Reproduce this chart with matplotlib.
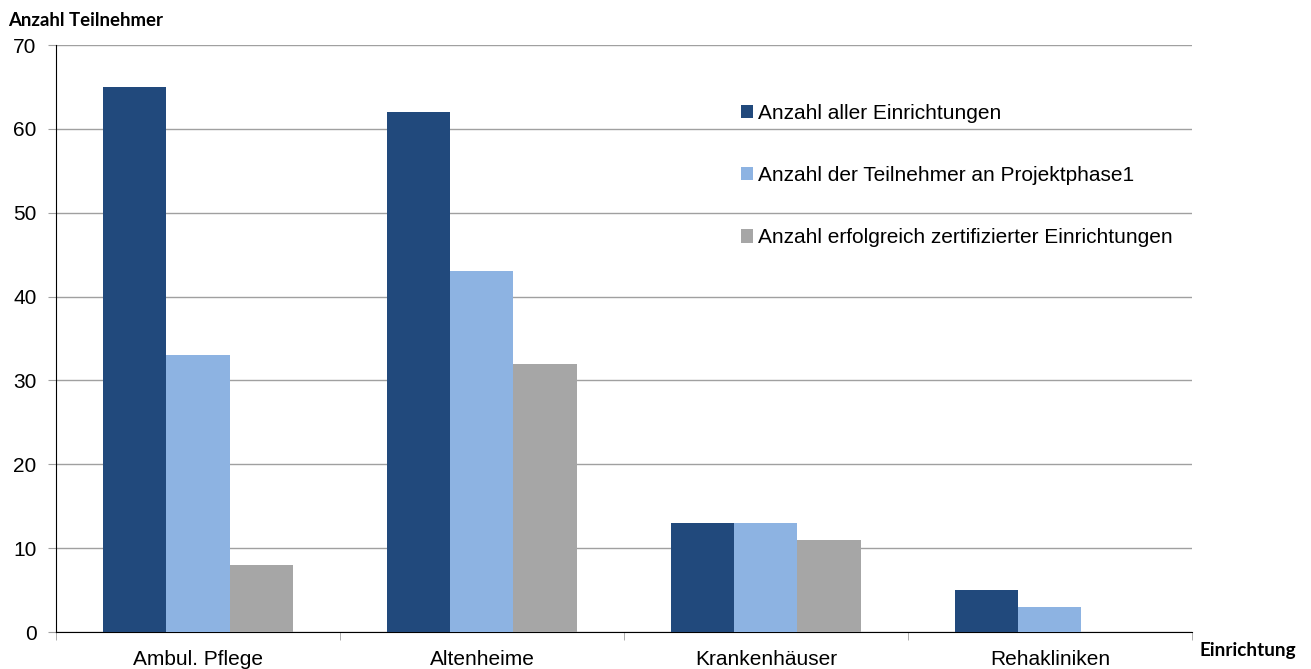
import numpy as np
import matplotlib.pyplot as plt

plt.rcParams['font.family'] = ['Liberation Sans', 'DejaVu Sans']

# Daten
kategorien = ['Ambul. Pflege', 'Altenheime', 'Krankenhäuser', 'Rehakliniken']
alle_einrichtungen = [65, 62, 13, 5]
teilnehmer_phase1 = [33, 43, 13, 3]
zertifiziert = [8, 32, 11, 0]
reihen_namen = ['Anzahl aller Einrichtungen',
                'Anzahl der Teilnehmer an Projektphase1',
                'Anzahl erfolgreich zertifizierter Einrichtungen']
farben = ['#21497c', '#8db3e2', '#a6a6a6']

fig = plt.figure(figsize=(13.11, 6.69), dpi=100)
ax = fig.add_axes([0.0427, 0.0553, 0.8665, 0.8774])

x = np.arange(len(kategorien))
breite = 0.222
for i, (werte, name, farbe) in enumerate(zip([alle_einrichtungen, teilnehmer_phase1, zertifiziert], reihen_namen, farben)):
    ax.bar(x + (i - 1) * breite, werte, breite, color=farbe, label=name, zorder=3)

ax.set_xlim(-0.5, len(kategorien) - 0.5)
ax.set_ylim(0, 70)
ax.set_yticks(range(0, 71, 10))
ax.yaxis.grid(True, color='#a0a0a0', linewidth=1)
ax.set_axisbelow(True)

ax.set_xticks(x)
ax.set_xticklabels(kategorien, fontsize=15)
ax.tick_params(axis='x', length=0, pad=13)
ax.set_xticks(np.arange(-0.5, len(kategorien)), minor=True)
ax.tick_params(axis='x', which='minor', length=6, color='#a0a0a0')
ax.tick_params(axis='y', labelsize=15, length=6, color='#a0a0a0', pad=8)

for s in ['top', 'right']:
    ax.spines[s].set_visible(False)
ax.spines['left'].set_color('black')
ax.spines['bottom'].set_color('black')

ax.legend(loc='upper left', bbox_to_anchor=(0.5936, 0.918), frameon=False, fontsize=15,
          handlelength=0.6, handleheight=0.6, handletextpad=0.25, labelspacing=2.08,
          borderpad=0)

fig.text(0.006, 0.97, 'Anzahl Teilnehmer', fontsize=13.4, fontweight='bold', va='center',
         family=['Lato', 'DejaVu Sans'])
fig.text(0.915, 0.028, 'Einrichtung', fontsize=13.6, fontweight='bold', va='center',
         family=['Lato', 'DejaVu Sans'])

fig.savefig('out.png', dpi=100)
